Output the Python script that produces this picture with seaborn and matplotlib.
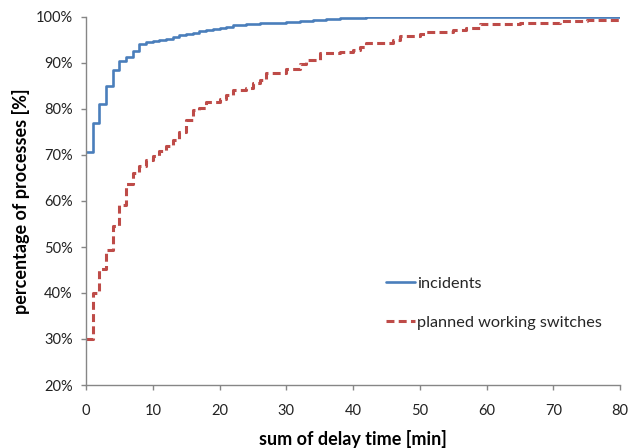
import matplotlib
matplotlib.use("Agg")
import matplotlib.pyplot as plt
import seaborn as sns
import pandas as pd
from matplotlib.ticker import PercentFormatter

# Data (cumulative share of processes, step starts)
inc_x = [0, 1, 2, 3, 4, 5, 6, 7, 8, 9, 10, 11, 12, 13, 14, 15, 16, 17, 18, 19,
         20, 21, 22, 24, 26, 28, 30, 32, 34, 36, 38, 42, 50, 80]
inc_y = [70.7, 76.9, 81.1, 85.0, 88.5, 90.4, 91.4, 92.5, 94.1, 94.5, 94.8, 95.0,
         95.3, 95.7, 96.0, 96.4, 96.6, 96.9, 97.1, 97.3, 97.6, 97.9, 98.2, 98.4,
         98.6, 98.8, 99.0, 99.2, 99.4, 99.6, 99.7, 99.9, 100.0, 100.0]

pws_x = [0, 1, 2, 3, 4, 5, 6, 7, 8, 9, 10, 11, 12, 13, 14, 15, 16, 17, 18, 20,
         21, 22, 24, 25, 26, 27, 30, 32, 33, 35, 38, 40, 41, 42, 46, 47, 50, 51,
         55, 57, 59, 65, 67, 71, 75, 80]
pws_y = [30.0, 40.0, 45.2, 49.3, 54.6, 59.1, 63.6, 66.0, 67.5, 68.9, 69.8, 70.8,
         71.9, 73.2, 75.0, 77.7, 79.8, 80.3, 81.6, 82.1, 83.0, 84.1, 84.6, 85.6,
         86.4, 87.9, 88.8, 89.8, 90.6, 92.1, 92.3, 92.8, 93.5, 94.4, 94.9, 95.8,
         96.2, 96.7, 97.2, 97.5, 98.5, 98.6, 98.8, 99.1, 99.3, 99.5]

labels = ["incidents", "planned working switches"]
x_ticks = [0, 10, 20, 30, 40, 50, 60, 70, 80]
y_ticks = [20, 30, 40, 50, 60, 70, 80, 90, 100]

sns.set_style("white")
plt.rcParams['font.family'] = ['Lato', 'DejaVu Sans']

fig = plt.figure(figsize=(6.38, 4.48), dpi=100)
ax = fig.add_axes([86/638, 1 - 385/448, 534/638, 368/448])

df_inc = pd.DataFrame({"x": inc_x, "y": inc_y})
df_pws = pd.DataFrame({"x": pws_x, "y": pws_y})

sns.lineplot(data=df_inc, x="x", y="y", ax=ax, drawstyle="steps-post",
             color="#4a7ebb", linewidth=1.9, label=labels[0])
sns.lineplot(data=df_pws, x="x", y="y", ax=ax, drawstyle="steps-post",
             color="#be4b48", linewidth=2.2, label=labels[1],
             dashes=False)
ax.lines[1].set_dashes((2.6, 1.4))

ax.set_xlim(0, 80)
ax.set_ylim(20, 100)
ax.set_xticks(x_ticks)
ax.set_yticks(y_ticks)
ax.yaxis.set_major_formatter(PercentFormatter(decimals=0))

for s in ["top", "right"]:
    ax.spines[s].set_visible(False)
for s in ["left", "bottom"]:
    ax.spines[s].set_color("#868686")
    ax.spines[s].set_linewidth(1.0)
ax.tick_params(axis="both", which="major", direction="out", length=3.5,
               width=1.0, color="#868686", labelsize=10.5, labelcolor="#222222",
               bottom=True, left=True)
ax.tick_params(axis="x", pad=10)
ax.tick_params(axis="y", pad=6)

ax.set_xlabel("sum of delay time [min]", fontsize=13, fontweight="bold",
              labelpad=9, color="black")
ax.set_ylabel("percentage of processes [%]", fontsize=13, fontweight="bold",
              labelpad=4, color="black")

leg = ax.legend(loc="upper left", bbox_to_anchor=(0.562, 0.294), frameon=False,
                fontsize=11.7, handlelength=1.75, handletextpad=0.15,
                labelspacing=1.5, borderaxespad=0, borderpad=0)

fig.savefig("out.png", dpi=100)
